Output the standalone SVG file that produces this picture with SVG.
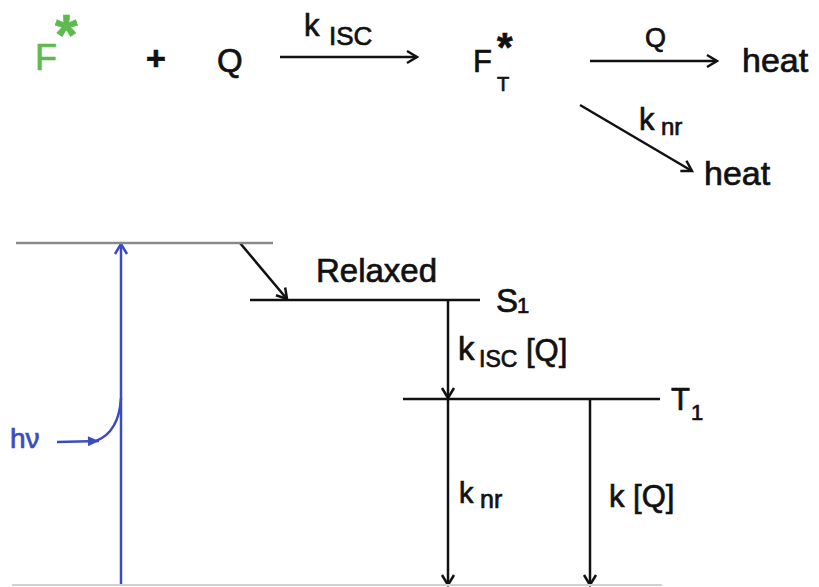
<svg xmlns="http://www.w3.org/2000/svg" width="819" height="587" viewBox="0 0 819 587">
<style>
text{font-family:"Liberation Sans","DejaVu Sans",sans-serif;fill:#111;stroke:#111;stroke-width:0.7}
.g{fill:#5dbb4e;stroke:#5dbb4e}
.b{fill:#3a4cc0;stroke:#3a4cc0}
.ast{font-weight:bold}
.ln{stroke:#111;stroke-width:2.5;fill:none}
.gr{stroke:#8a8a8a;stroke-width:2.5;fill:none}
.bl{stroke:#3a4cc0;stroke-width:2.5;fill:none}
</style>
<defs>
<marker id="ah" markerWidth="16" markerHeight="16" refX="13" refY="8" orient="auto" markerUnits="userSpaceOnUse">
<path d="M3,2 L13,8 L3,14" fill="none" stroke="#111" stroke-width="2.5"/>
</marker>
<marker id="ahb" markerWidth="16" markerHeight="16" refX="13" refY="8" orient="auto" markerUnits="userSpaceOnUse">
<path d="M3,2 L13,8 L3,14" fill="none" stroke="#3a4cc0" stroke-width="2.5"/>
</marker>
<marker id="ahbf" markerWidth="16" markerHeight="16" refX="13" refY="8" orient="auto" markerUnits="userSpaceOnUse">
<path d="M2,3 L13,8 L2,13 Z" fill="#3a4cc0"/>
</marker>
</defs>
<g id="connectors">
<line class="ln" x1="280" y1="57" x2="417" y2="57" marker-end="url(#ah)"/>
<line class="ln" x1="590" y1="61" x2="717" y2="61" marker-end="url(#ah)"/>
<line class="ln" x1="580" y1="105" x2="692" y2="171" marker-end="url(#ah)"/>
<line class="ln" x1="240" y1="243" x2="287" y2="299" marker-end="url(#ah)"/>
<line class="ln" x1="448" y1="301" x2="448" y2="398" marker-end="url(#ah)"/>
<line class="ln" x1="448" y1="400" x2="448" y2="585" marker-end="url(#ah)"/>
<line class="ln" x1="590" y1="400" x2="590" y2="585" marker-end="url(#ah)"/>
<line class="bl" x1="121" y1="585" x2="121" y2="244" marker-end="url(#ahb)"/>
<line class="bl" x1="57" y1="442" x2="99" y2="441" marker-end="url(#ahbf)"/>
<path class="bl" d="M96,441 Q119,432 121,398"/>
</g>
<g id="reaction">
<text class="g" x="35" y="70" font-size="36">F</text>
<text class="g ast" x="55" y="55" font-size="58">*</text>
<text x="146" y="70" font-size="34" font-weight="bold">+</text>
<text x="217" y="72" font-size="33">Q</text>
<text x="304" y="36" font-size="31">k</text>
<text x="329" y="45" font-size="26">ISC</text>
<text x="473" y="72" font-size="31">F</text>
<text class="ast" x="497" y="61" font-size="40">*</text>
<text x="497" y="91" font-size="20">T</text>
<text x="645" y="47" font-size="27">Q</text>
<text x="742" y="72" font-size="34">heat</text>
<text x="639" y="130" font-size="31">k</text>
<text x="661" y="135" font-size="24">nr</text>
<text x="704" y="185" font-size="34">heat</text>
</g>
<g id="levels">
<line class="gr" x1="16" y1="243" x2="273" y2="243"/>
<line class="ln" x1="250" y1="300" x2="480" y2="300"/>
<line class="ln" x1="403" y1="399" x2="660" y2="399"/>
<line x1="12" y1="585" x2="662" y2="585" stroke="#d0d0d0" stroke-width="2"/>
</g>
<g id="labels">
<text x="316" y="282" font-size="33">Relaxed</text>
<text x="496" y="312" font-size="33">S</text>
<text x="517" y="313" font-size="22">1</text>
<text x="458" y="360" font-size="33">k</text>
<text x="479" y="367" font-size="23">ISC</text>
<text x="526" y="361" font-size="31">[Q]</text>
<text x="671" y="410" font-size="31">T</text>
<text x="691" y="420" font-size="22">1</text>
<text x="459" y="503" font-size="29">k</text>
<text x="480" y="508" font-size="25">nr</text>
<text x="609" y="507" font-size="31">k [Q]</text>
<text class="b" x="10" y="448" font-size="28">hν</text>
</g>
</svg>
